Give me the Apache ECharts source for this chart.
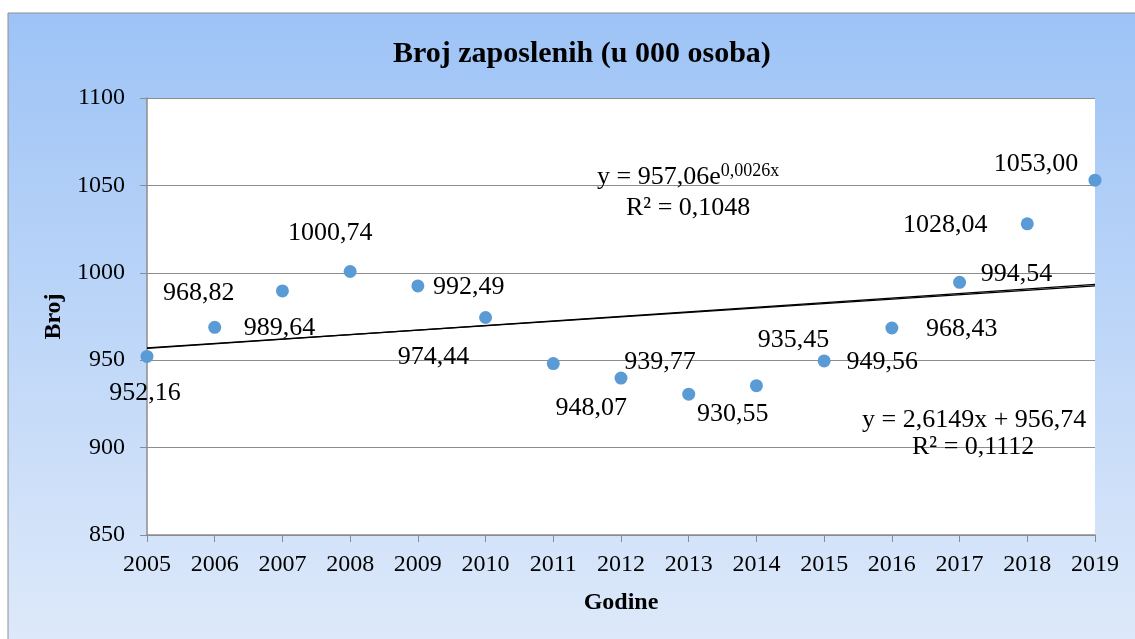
<!DOCTYPE html>
<html><head><meta charset="utf-8">
<script src="https://cdn.jsdelivr.net/npm/echarts@6/dist/echarts.min.js"></script>
<style>html,body{margin:0;padding:0;background:#fff}#c{width:1135px;height:639px}</style>
</head><body><div id="c"></div>
<script>
const years = [2005,2006,2007,2008,2009,2010,2011,2012,2013,2014,2015,2016,2017,2018,2019];
const values = [952.16,968.82,989.64,1000.74,992.49,974.44,948.07,939.77,930.55,935.45,949.56,968.43,994.54,1028.04,1053.00];
const labelTexts = ['952,16','968,82','989,64','1000,74','992,49','974,44','948,07','939,77','930,55','935,45','949,56','968,43','994,54','1028,04','1053,00'];
const linearTrend = [956.74, 993.35];
const expTrend = [957.06, 992.55];
const trendYears = [2005, 2019];
const yTicks = [850, 900, 950, 1000, 1050, 1100];

// per-point label offsets from the point centre (layout only)
const offs = [[-2,37],[-16,-34],[-3,37],[-20,-38],[51,1],[-52,40],[38,45],[39,-16],[44,20],[37,-45],[58,1],[70,1],[57,-8],[-82,1],[-59,-16]];
const chart = echarts.init(document.getElementById('c'));
const FONT = '"Liberation Serif","Times New Roman",serif';

const scatterData = years.map((y,i)=>({
  value:[y, values[i]],
  label:{show:true, position:'inside', offset: offs[i], formatter: labelTexts[i]}
}));

chart.setOption({
  animation:false,
  graphic:[
    {type:'rect', z:-10, shape:{x:8,y:13,width:1140,height:640},
     style:{fill:{type:'linear',x:0,y:0,x2:0,y2:1,colorStops:[{offset:0,color:'#9dc3f6'},{offset:1,color:'#dfeafa'}]}, stroke:'#8f8f8f', lineWidth:1}},
    {type:'text', left:597, top:162, z:10, style:{text:'y = 957,06e{s|0,0026x}', font:'26px '+FONT, fill:'#000',
      rich:{s:{fontSize:18, fontFamily:'Liberation Serif', padding:[0,0,13,0]}}}},
    {type:'text', left:626, top:195, z:10, style:{text:'R² = 0,1048', font:'26px '+FONT, fill:'#000'}},
    {type:'text', left:862, top:407, z:10, style:{text:'y = 2,6149x + 956,74', font:'26px '+FONT, fill:'#000'}},
    {type:'text', left:912, top:434, z:10, style:{text:'R² = 0,1112', font:'26px '+FONT, fill:'#000'}}
  ],
  title:{text:'Broj zaposlenih (u 000 osoba)', left:388, top:34,
    textStyle:{fontFamily:FONT, fontWeight:'bold', fontSize:30, color:'#000'}},
  grid:{left:147, right:40, top:98, bottom:104, show:true, backgroundColor:'#fff', borderWidth:0},
  xAxis:{type:'value', min:2005, max:2019, interval:1,
    name:'Godine', nameLocation:'middle', nameGap:56,
    nameTextStyle:{fontFamily:FONT, fontWeight:'bold', fontSize:24, color:'#000'},
    axisLine:{lineStyle:{color:'#8c8c8c', width:1.5}},
    axisTick:{show:true, length:7, lineStyle:{color:'#8c8c8c'}},
    splitLine:{show:false},
    axisLabel:{formatter:v=>String(v), fontFamily:FONT, fontSize:24, color:'#000', margin:18}},
  yAxis:{type:'value', min:850, max:1100, interval:50,
    name:'Broj', nameLocation:'middle', nameGap:78, nameRotate:90,
    nameTextStyle:{fontFamily:FONT, fontWeight:'bold', fontSize:24, color:'#000'},
    axisLine:{show:true, lineStyle:{color:'#8c8c8c', width:1.5}},
    axisTick:{show:true, length:7, lineStyle:{color:'#8c8c8c'}},
    splitLine:{show:true, lineStyle:{color:'#8c8c8c', width:1}},
    axisLabel:{fontFamily:FONT, fontSize:24, color:'#000', margin:22, formatter:v=>yTicks.includes(v)?String(v):''}},
  series:[
    {type:'line', data:trendYears.map((y,i)=>[y, linearTrend[i]]), symbol:'none', lineStyle:{color:'#000', width:1.3}, z:3, silent:true},
    {type:'line', data:trendYears.map((y,i)=>[y, expTrend[i]]), symbol:'none', lineStyle:{color:'#000', width:1.3}, z:3, silent:true},
    {type:'scatter', data:scatterData, symbolSize:13, itemStyle:{color:'#5b9bd5', opacity:1}, z:5,
     label:{fontFamily:FONT, fontSize:26, color:'#000'}}
  ]
});
</script></body></html>
